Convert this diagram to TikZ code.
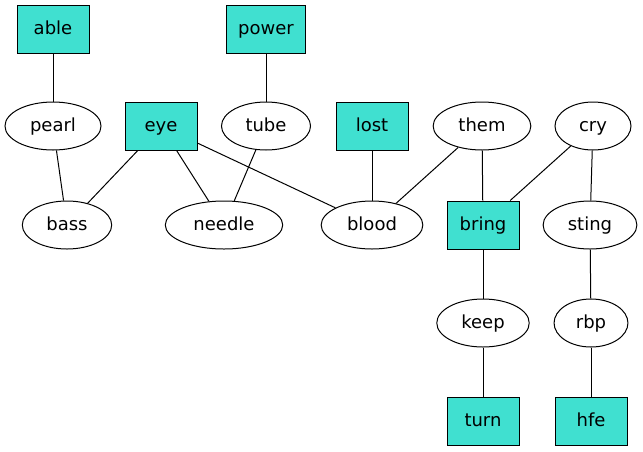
\documentclass[tikz,border=0pt]{standalone}
\usepackage{fontspec}
\setmainfont{DejaVu Sans}
\usetikzlibrary{shapes.geometric}

\tikzset{
  word/.style={draw,line width=1pt,font=\fontsize{18}{20}\selectfont,text height=14pt,text depth=4pt},
  boxword/.style={word,rectangle,fill=turq,minimum width=72pt,minimum height=48pt,inner xsep=12pt},
  ovalword/.style={word,ellipse,fill=white,minimum width=72pt,minimum height=48pt,inner xsep=11pt,inner ysep=2pt},
  link/.style={line width=1pt}
}
\definecolor{turq}{HTML}{40E0D0}

\begin{document}
\begin{tikzpicture}[x=1pt,y=-1pt]
  \useasboundingbox (0,0) rectangle (643,451);
  % top row
  \node[boxword] (able) at (53,29) {able};
  \node[boxword] (power) at (266,29) {power};
  % second row
  \node[ovalword] (pearl) at (53,126) {pearl};
  \node[boxword] (eye) at (161,126) {eye};
  \node[ovalword] (tube) at (266,126) {tube};
  \node[boxword] (lost) at (372,126) {lost};
  \node[ovalword] (them) at (482,126) {them};
  \node[ovalword,minimum width=76pt] (cry) at (593,126) {cry};
  % third row
  \node[ovalword] (bass) at (67,225) {bass};
  \node[ovalword] (needle) at (224,225) {needle};
  \node[ovalword] (blood) at (372,225) {blood};
  \node[boxword] (bring) at (483,225) {bring};
  \node[ovalword] (sting) at (590,225) {sting};
  % lower rows
  \node[ovalword] (keep) at (483,323) {keep};
  \node[ovalword] (rbp) at (591,323) {rbp};
  \node[boxword] (turn) at (483,421) {turn};
  \node[boxword] (hfe) at (591,421) {hfe};
  % edges
  \draw[link] (able) -- (pearl);
  \draw[link] (pearl) -- (bass);
  \draw[link] (eye) -- (bass);
  \draw[link] (eye) -- (needle);
  \draw[link] (eye) -- (blood);
  \draw[link] (power) -- (tube);
  \draw[link] (tube) -- (needle);
  \draw[link] (lost) -- (blood);
  \draw[link] (them) -- (blood);
  \draw[link] (them) -- (bring);
  \draw[link] (cry) -- (bring);
  \draw[link] (cry) -- (sting);
  \draw[link] (bring) -- (keep);
  \draw[link] (keep) -- (turn);
  \draw[link] (sting) -- (rbp);
  \draw[link] (rbp) -- (hfe);
\end{tikzpicture}
\end{document}
